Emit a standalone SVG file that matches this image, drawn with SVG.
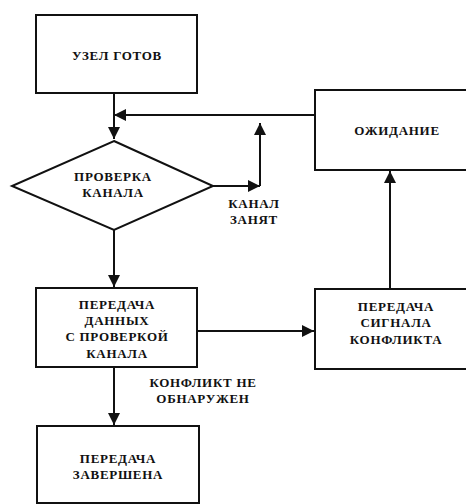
<svg xmlns="http://www.w3.org/2000/svg" width="466" height="504" viewBox="0 0 466 504">
<style>
.box{fill:#fff;stroke:#111;stroke-width:2}
.t{font-family:"Liberation Serif","DejaVu Serif","Times New Roman",serif;font-weight:bold;font-size:13px;letter-spacing:0.7px;fill:#111;text-anchor:middle}
.c{fill:none;stroke:#111;stroke-width:2}
</style>
<defs>
<marker id="ah" viewBox="0 0 10 10" refX="10" refY="5" markerWidth="12" markerHeight="12" markerUnits="userSpaceOnUse" orient="auto">
<path d="M0,0 L10,5 L0,10 Z" fill="#111"/>
</marker>
</defs>
<rect width="466" height="504" fill="#fff"/>
<g id="n1"><rect class="box" x="36" y="15" width="161" height="78"/><text class="t" x="117" y="60">УЗЕЛ ГОТОВ</text></g>
<g id="n2"><polygon class="box" points="114,141 213,186 114,230 12,186"/><text class="t" x="113" y="181">ПРОВЕРКА</text><text class="t" x="113" y="197">КАНАЛА</text></g>
<g id="n3"><rect class="box" x="315" y="90" width="160" height="80"/><text class="t" x="397" y="135">ОЖИДАНИЕ</text></g>
<g id="n4"><rect class="box" x="36" y="288" width="161" height="79"/><text class="t" x="117" y="309">ПЕРЕДАЧА</text><text class="t" x="117" y="325">ДАННЫХ</text><text class="t" x="117" y="341">С ПРОВЕРКОЙ</text><text class="t" x="117" y="358">КАНАЛА</text></g>
<g id="n5"><rect class="box" x="315" y="289" width="160" height="80"/><text class="t" x="396" y="311">ПЕРЕДАЧА</text><text class="t" x="396" y="327">СИГНАЛА</text><text class="t" x="396" y="344">КОНФЛИКТА</text></g>
<g id="n6"><rect class="box" x="37" y="426" width="162" height="77"/><text class="t" x="118" y="463">ПЕРЕДАЧА</text><text class="t" x="118" y="479">ЗАВЕРШЕНА</text></g>
<g id="connectors">
<line class="c" x1="114" y1="93" x2="114" y2="139" marker-end="url(#ah)"/>
<line class="c" x1="315" y1="115" x2="114" y2="115" marker-end="url(#ah)"/>
<line class="c" x1="213" y1="186" x2="260" y2="186" marker-end="url(#ah)"/>
<line class="c" x1="260" y1="186" x2="260" y2="123" marker-end="url(#ah)"/>
<line class="c" x1="114" y1="230" x2="114" y2="287" marker-end="url(#ah)"/>
<line class="c" x1="197" y1="331" x2="314" y2="331" marker-end="url(#ah)"/>
<line class="c" x1="390" y1="289" x2="390" y2="171" marker-end="url(#ah)"/>
<line class="c" x1="114" y1="367" x2="114" y2="425" marker-end="url(#ah)"/>
</g>
<g id="labels">
<text class="t" x="254" y="208">КАНАЛ</text><text class="t" x="254" y="224">ЗАНЯТ</text>
<text class="t" x="203" y="387">КОНФЛИКТ НЕ</text><text class="t" x="203" y="403">ОБНАРУЖЕН</text>
</g>
</svg>
